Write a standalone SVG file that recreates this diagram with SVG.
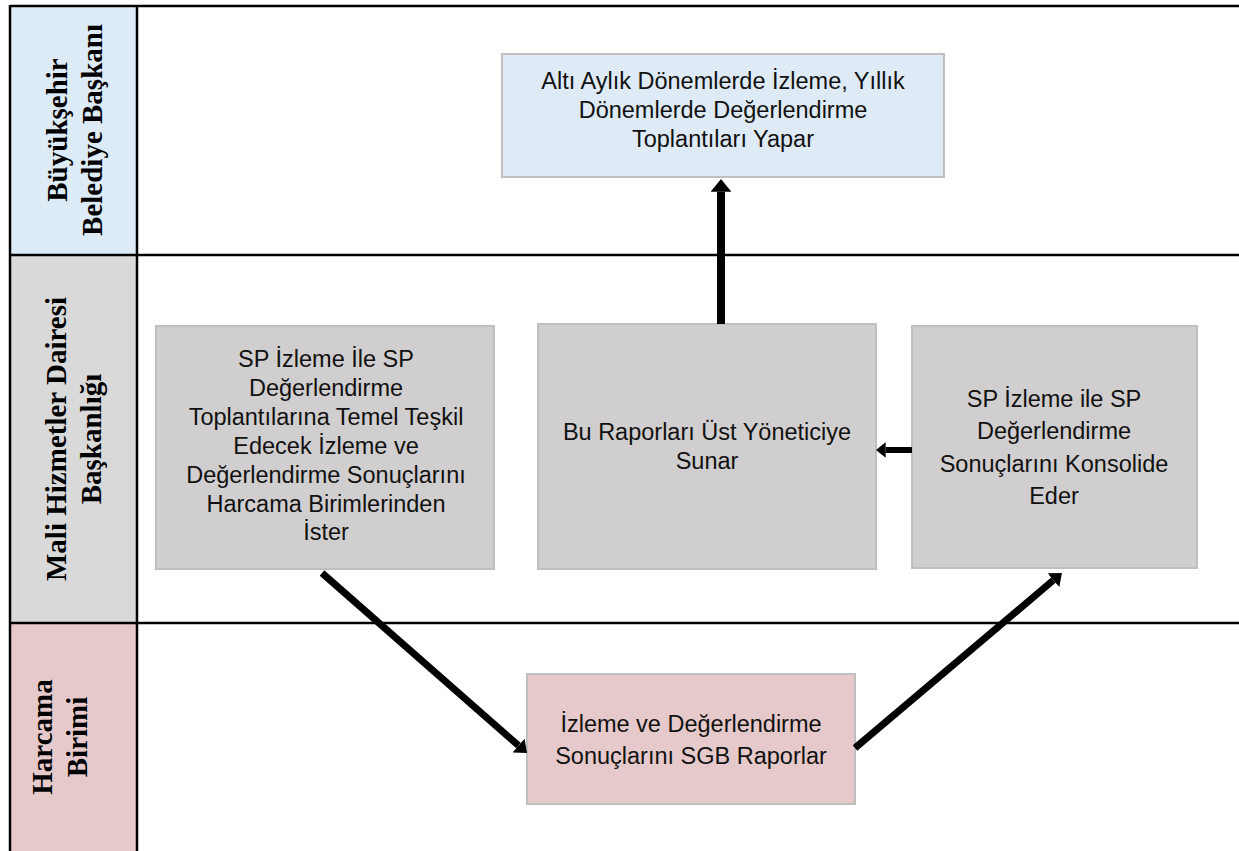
<svg xmlns="http://www.w3.org/2000/svg" width="1239" height="851" viewBox="0 0 1239 851">
<style>
.lane-label{font-family:"Liberation Serif","Times New Roman",serif;font-weight:bold;font-size:29px;fill:#000;}
.box-text{font-family:"Liberation Sans",Arial,sans-serif;font-size:23.5px;fill:#111;text-anchor:middle;}
.tbl{stroke:#000;stroke-width:2.5;fill:none;}
.box{stroke:#BFBFBF;stroke-width:2;}
.conn{stroke:#000;fill:none;marker-end:url(#ah);}
</style>
<defs>
<marker id="ah" viewBox="0 0 16 26" refX="0" refY="13" markerWidth="1.6" markerHeight="2.6" markerUnits="strokeWidth" orient="auto">
<path d="M0,0 L16,13 L0,26 z" fill="#000"/>
</marker>
</defs>
<rect x="0" y="0" width="1239" height="851" fill="#fff"/>
<g id="lanes">
<rect x="11" y="7" width="126" height="248" fill="#DDEBF7"/>
<rect x="11" y="255" width="126" height="368" fill="#D9D9D9"/>
<rect x="11" y="623" width="126" height="228" fill="#E6CACB"/>
<line class="tbl" x1="10" y1="6" x2="1239" y2="6"/>
<line class="tbl" x1="10" y1="5" x2="10" y2="851"/>
<line class="tbl" x1="137" y1="6" x2="137" y2="851"/>
<line class="tbl" x1="10" y1="255" x2="1239" y2="255"/>
<line class="tbl" x1="10" y1="623" x2="1239" y2="623"/>
</g>
<g id="lane-baskan">
<text class="lane-label" text-anchor="middle" transform="translate(67,130) rotate(-90)">Büyükşehir<tspan x="0" dy="35">Belediye Başkanı</tspan></text>
</g>
<g id="lane-mali">
<text class="lane-label" text-anchor="middle" transform="translate(66,439) rotate(-90)">Mali Hizmetler Dairesi<tspan x="0" dy="35">Başkanlığı</tspan></text>
</g>
<g id="lane-harcama">
<text class="lane-label" text-anchor="middle" transform="translate(52,737) rotate(-90)">Harcama<tspan x="0" dy="35">Birimi</tspan></text>
</g>
<g id="node-toplanti">
<rect class="box" x="502" y="54" width="442" height="123" fill="#DEEAF6"/>
<text class="box-text" x="723" y="89">Altı Aylık Dönemlerde İzleme, Yıllık</text>
<text class="box-text" x="723" y="118">Dönemlerde Değerlendirme</text>
<text class="box-text" x="723" y="147">Toplantıları Yapar</text>
</g>
<g id="node-ister">
<rect class="box" x="156" y="326" width="338" height="243" fill="#D0CECE"/>
<text class="box-text" x="326" y="367">SP İzleme İle SP</text>
<text class="box-text" x="326" y="396">Değerlendirme</text>
<text class="box-text" x="326" y="425">Toplantılarına Temel Teşkil</text>
<text class="box-text" x="326" y="454">Edecek İzleme ve</text>
<text class="box-text" x="326" y="483">Değerlendirme Sonuçlarını</text>
<text class="box-text" x="326" y="512">Harcama Birimlerinden</text>
<text class="box-text" x="326" y="540">İster</text>
</g>
<g id="node-sunar">
<rect class="box" x="538" y="324" width="338" height="245" fill="#D0CECE"/>
<text class="box-text" x="707" y="440">Bu Raporları Üst Yöneticiye</text>
<text class="box-text" x="707" y="469">Sunar</text>
</g>
<g id="node-konsolide">
<rect class="box" x="912" y="326" width="285" height="242" fill="#D0CECE"/>
<text class="box-text" x="1054" y="407">SP İzleme ile SP</text>
<text class="box-text" x="1054" y="439">Değerlendirme</text>
<text class="box-text" x="1054" y="472">Sonuçlarını Konsolide</text>
<text class="box-text" x="1054" y="504">Eder</text>
</g>
<g id="node-rapor">
<rect class="box" x="527" y="674" width="328" height="130" fill="#E6C9CA"/>
<text class="box-text" x="691" y="732">İzleme ve Değerlendirme</text>
<text class="box-text" x="691" y="764">Sonuçlarını SGB Raporlar</text>
</g>
<g id="connectors">
<line class="conn" stroke-width="8" x1="721" y1="324" x2="721" y2="191.8"/>
<line class="conn" stroke-width="6" x1="912" y1="450" x2="885.6" y2="450"/>
<line class="conn" stroke-width="7" x1="322" y1="573" x2="518.6" y2="745.6"/>
<line class="conn" stroke-width="7" x1="855" y1="748" x2="1053.4" y2="580.2"/>
</g>
</svg>
